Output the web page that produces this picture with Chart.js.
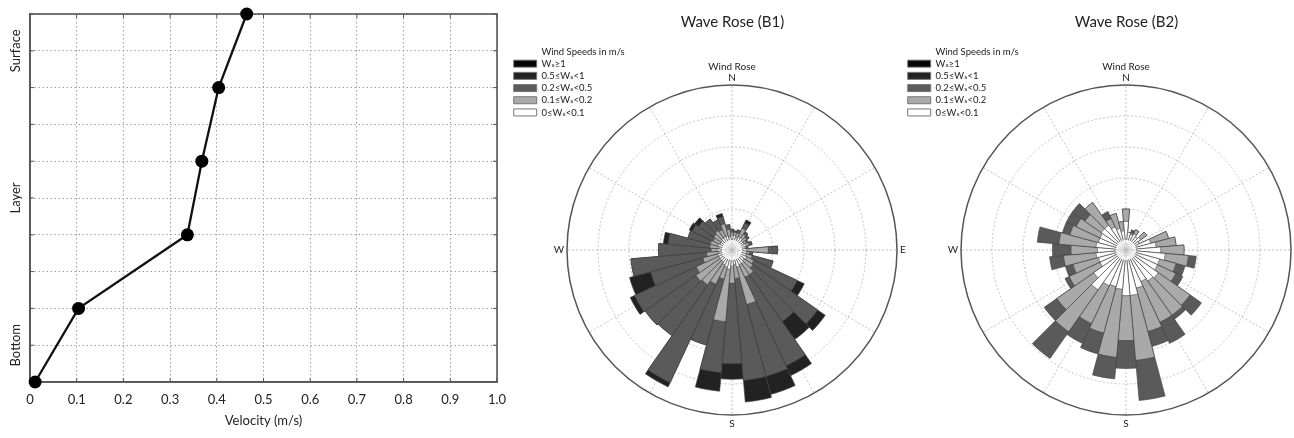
<!DOCTYPE html>
<html>
<head>
<meta charset="utf-8">
<script src="https://cdn.jsdelivr.net/npm/chart.js@4.4.1/dist/chart.umd.min.js"></script>
<style>
  html, body { margin: 0; padding: 0; background: #fff; overflow: hidden; width: 1294px; height: 438px; }
  .panel { position: absolute; top: 0; }
  #profileBox { left: 0; width: 515px; height: 438px; }
  #roseB1Box { left: 511px; width: 443px; height: 500px; }
  #roseB2Box { left: 905px; width: 443px; height: 500px; }
</style>
</head>
<body>
<div class="panel" id="profileBox"><canvas id="profileChart"></canvas></div>
<div class="panel" id="roseB1Box"><canvas id="roseB1"></canvas></div>
<div class="panel" id="roseB2Box"><canvas id="roseB2"></canvas></div>
<script>
// velocity profile
const layerTicks = [0, 1, 2, 3, 4, 5, 6, 7, 8, 9, 10];
const layerNames = ['', 'Bottom', '', '', '', '', '', '', '', 'Surface', ''];
const velocityTicks = [0, 0.1, 0.2, 0.3, 0.4, 0.5, 0.6, 0.7, 0.8, 0.9, 1.0];
const profileLayers = [0, 2, 4, 6, 8, 10];
const profileVelocity = [0.011, 0.104, 0.337, 0.368, 0.404, 0.464];

// wave roses: 36 direction bins, frequency per speed class
const directions = [0, 10, 20, 30, 40, 50, 60, 70, 80, 90, 100, 110, 120, 130, 140, 150, 160, 170,
  180, 190, 200, 210, 220, 230, 240, 250, 260, 270, 280, 290, 300, 310, 320, 330, 340, 350];
const ringValues = [0, 2, 4, 6, 8, 10];
const spokeAngles = [0, 30, 60, 90, 120, 150, 180, 210, 240, 270, 300, 330];
const speedClasses = ['0≤Wₛ<0.1', '0.1≤Wₛ<0.2', '0.2≤Wₛ<0.5', '0.5≤Wₛ<1', 'Wₛ≥1'];
const speedColors = ['#ffffff', '#a9a9a9', '#5a5a5a', '#222222', '#050505'];

const b1Calm = [0.3,0.3,0.2,0.3,0.3,0.2,0.2,0.3,0.2,0.3, 0.3,0.3,0.4,0.3,0.4,0.4,0.5,0.3,0.4,0.6,
  0.5,0.4,0.3,0.3,0.3,0.3,0.2,0.3,0.2,0.3, 0.2,0.2,0.3,0.3,0.3,0.2];
const b1Light = [0.2,0.2,0.3,0.6,0.3,0.3,0.2,0.2,0.1,1.4, 0.2,0.4,0.5,0.7,0.9,0.9,2.5,0.9,1.1,3.4,
  0.8,1.4,1.8,1.9,1.6,1.0,0.8,0.4,0.6,0.5, 0.5,0.6,0.6,0.5,0.8,0.5];
const b1Moderate = [0.2,0.1,0.2,0.4,0.2,0.2,0.1,0.2,0.1,0.6, 0.2,1.4,3.1,5.1,3.7,6.3,4.8,6.6,5.2,3.3,
  4.4,7.0,4.0,4.0,4.4,3.5,4.9,3.4,2.7,1.5, 1.5,1.2,0.9,0.7,0.5,0.3];
const b1Strong = [0,0,0,0.2,0,0,0,0,0,0, 0,0,0.5,0.6,1.4,0.7,1.2,1.4,1.0,1.2,
  0,0.3,0,0,0.3,1.4,0,0,0.3,0, 0.2,0.3,0,0,0.2,0];

const b2Calm = [1.2,0.5,0.4,0.5,0.4,0.5,0.3,1.0,1.3,1.6, 1.9,1.6,1.6,1.9,1.8,1.6,1.9,2.3,2.3,1.9,
  1.8,1.9,2.5,1.9,1.2,1.2,1.3,1.2,1.3,1.2, 1.2,1.3,1.3,1.0,0.8,0.6];
const b2Light = [0.8,0,0.1,0.3,0,0.5,0,1.2,1.3,1.5, 1.5,1.1,1.3,2.5,2.7,2.9,2.9,4.2,2.9,4.4,
  3.1,2.7,3.3,2.9,2.2,1.7,2.1,1.7,2.4,1.9, 1.7,1.3,1.8,0.6,1.0,0.6];
const b2Moderate = [0,0,0.2,0,0,0,0,0,0,0, 0.5,0.6,0.5,0.9,0.3,1.5,1.0,2.6,1.8,1.4,
  1.4,1.4,2.1,1.0,0.3,0.5,0.9,1.2,1.4,0.5, 0.7,1.0,0,0.5,0,0];

const fontFamily = "Lato, 'DejaVu Sans', 'Noto Sans', sans-serif";
Chart.defaults.font.family = fontFamily;
Chart.defaults.color = '#222';

const plotFrame = {
    id: 'plotFrame',
    beforeDatasetsDraw(chart) {
        const { ctx, chartArea: a, scales } = chart;
        ctx.save();
        ctx.strokeStyle = '#555';
        ctx.lineWidth = 1.6;
        ctx.strokeRect(a.left, a.top, a.right - a.left, a.bottom - a.top);
        ctx.lineWidth = 1;
        ctx.beginPath();
        scales.x.ticks.forEach(t => {
            const px = scales.x.getPixelForValue(t.value);
            ctx.moveTo(px, a.bottom); ctx.lineTo(px, a.bottom - 4);
            ctx.moveTo(px, a.top); ctx.lineTo(px, a.top + 4);
        });
        scales.y.ticks.forEach(t => {
            const py = scales.y.getPixelForValue(t.value);
            ctx.moveTo(a.left, py); ctx.lineTo(a.left + 4, py);
            ctx.moveTo(a.right, py); ctx.lineTo(a.right - 4, py);
        });
        ctx.stroke();
        ctx.restore();
    }
};

new Chart(document.getElementById('profileChart'), {
    type: 'line',
    data: {
        datasets: [{
            data: profileVelocity.map((v, i) => ({ x: v, y: profileLayers[i] })),
            borderColor: '#111',
            borderWidth: 2.3,
            pointRadius: 6.5,
            pointBackgroundColor: '#000',
            pointBorderWidth: 0,
            tension: 0,
            clip: false
        }]
    },
    options: {
        animation: false,
        responsive: true,
        maintainAspectRatio: false,
        layout: { padding: { top: 14, right: 18, left: 0, bottom: 0 } },
        plugins: { legend: { display: false }, tooltip: { enabled: false } },
        scales: {
            x: {
                type: 'linear', min: 0, max: 1,
                afterBuildTicks: s => { s.ticks = velocityTicks.map(v => ({ value: v })); },
                afterFit: s => { s.height = 56; s.paddingLeft = 0; s.paddingRight = 0; },
                ticks: {
                    autoSkip: false, maxRotation: 0, padding: 10.5, font: { size: 13 }, color: '#222',
                    callback: v => v === 0 ? '0' : v.toFixed(1)
                },
                grid: { color: '#a2a2a2', lineWidth: 1, drawTicks: false },
                border: { dash: [1.5, 2.5], color: '#555', width: 1.5 },
                title: { display: true, text: 'Velocity (m/s)', font: { size: 13 }, color: '#222', padding: { bottom: 9 } }
            },
            y: {
                type: 'linear', min: 0, max: 10,
                afterBuildTicks: s => { s.ticks = layerTicks.map(v => ({ value: v })); },
                afterFit: s => { s.width = 30; },
                ticks: {
                    autoSkip: false, minRotation: 90, maxRotation: 90, crossAlign: 'center', padding: -7.5,
                    font: { size: 13 }, color: '#222',
                    callback: v => layerNames[v]
                },
                grid: { color: '#a2a2a2', lineWidth: 1, drawTicks: false },
                border: { dash: [1.5, 2.5], color: '#555', width: 1.5 },
                title: { display: true, text: 'Layer', font: { size: 13 }, color: '#222', padding: { top: 8 } }
            }
        }
    },
    plugins: [plotFrame]
});

const roseSpokes = {
    id: 'roseSpokes',
    beforeDatasetsDraw(chart) {
        const r = chart.scales.r;
        const ctx = chart.ctx;
        const inner = r.getDistanceFromCenterForValue(0);
        ctx.save();
        ctx.strokeStyle = '#b4b4b4';
        ctx.lineWidth = 0.8;
        ctx.setLineDash([2, 2]);
        spokeAngles.forEach(deg => {
            const a = deg * Math.PI / 180;
            ctx.beginPath();
            ctx.moveTo(r.xCenter + Math.sin(a) * inner, r.yCenter - Math.cos(a) * inner);
            ctx.lineTo(r.xCenter + Math.sin(a) * r.drawingArea, r.yCenter - Math.cos(a) * r.drawingArea);
            ctx.stroke();
        });
        ctx.restore();
    },
    afterDatasetsDraw(chart) {
        const r = chart.scales.r;
        const ctx = chart.ctx;
        const R = r.drawingArea;
        ctx.save();
        ctx.fillStyle = '#222';
        ctx.font = '10px ' + fontFamily;
        ctx.textAlign = 'center';
        ctx.textBaseline = 'bottom';
        ctx.fillText('N', r.xCenter, r.yCenter - R - 2);
        ctx.fillText('Wind Rose', r.xCenter, r.yCenter - R - 13);
        ctx.textBaseline = 'top';
        ctx.fillText('S', r.xCenter, r.yCenter + R + 4);
        ctx.textBaseline = 'middle';
        ctx.textAlign = 'left';
        ctx.fillText('E', r.xCenter + R + 3, r.yCenter);
        ctx.textAlign = 'right';
        ctx.fillText('W', r.xCenter - R - 3, r.yCenter);
        ctx.restore();
    }
};

function legendItems() {
    const items = [{ text: 'Wind Speeds in m/s', fillStyle: 'rgba(0,0,0,0)', strokeStyle: 'rgba(0,0,0,0)', lineWidth: 0 }];
    for (let k = speedClasses.length - 1; k >= 0; k--) {
        items.push({ text: speedClasses[k], fillStyle: speedColors[k], strokeStyle: '#777', lineWidth: 1 });
    }
    return items;
}

function buildRose(canvasId, title, layers) {
    let running = directions.map(() => 0);
    const stacks = layers.map(layer => (running = running.map((v, i) => v + layer[i])));
    const datasets = stacks.map((values, k) => ({
        label: speedClasses[k],
        data: values,
        backgroundColor: speedColors[k],
        borderColor: '#3c3c3c',
        borderWidth: 0.6
    }));
    // empty centre of the rose
    datasets.unshift({ label: 'centre', data: directions.map(() => 0), backgroundColor: '#fff', borderWidth: 0 });

    return new Chart(document.getElementById(canvasId), {
        type: 'polarArea',
        data: { labels: directions, datasets },
        options: {
            animation: false,
            responsive: true,
            maintainAspectRatio: false,
            layout: { padding: { bottom: 43.5 } },
            plugins: {
                title: {
                    display: true, text: title, color: '#222',
                    font: { size: 15, weight: 'normal' },
                    padding: { top: 13.5, bottom: 12 }
                },
                legend: {
                    position: 'chartArea',
                    align: 'start',
                    // blank title only pushes the list below the chart title
                    title: { display: true, text: '', font: { size: 10 }, padding: { top: 32, bottom: 0 } },
                    labels: {
                        boxWidth: 23, boxHeight: 7, padding: 2.7,
                        font: { size: 9.5 }, color: '#222',
                        generateLabels: legendItems
                    }
                },
                tooltip: { enabled: false }
            },
            scales: {
                r: {
                    min: -0.645, max: 10,
                    startAngle: -5,
                    afterBuildTicks: s => { s.ticks = ringValues.map(v => ({ value: v })); },
                    afterFit: s => { s.drawingArea = 165; },
                    ticks: { display: false },
                    pointLabels: { display: false },
                    angleLines: { display: false },
                    grid: {
                        circular: true,
                        color: c => c.tick.value === 10 ? '#555' : (c.tick.value === 0 ? 'rgba(0,0,0,0)' : '#b4b4b4'),
                        lineWidth: c => c.tick.value === 10 ? 1.5 : 0.8
                    },
                    border: { dash: c => c.tick && c.tick.value === 10 ? [] : [2, 2] }
                }
            }
        },
        plugins: [roseSpokes]
    });
}

buildRose('roseB1', 'Wave Rose (B1)', [b1Calm, b1Light, b1Moderate, b1Strong]);
buildRose('roseB2', 'Wave Rose (B2)', [b2Calm, b2Light, b2Moderate]);
</script>
</body>
</html>
